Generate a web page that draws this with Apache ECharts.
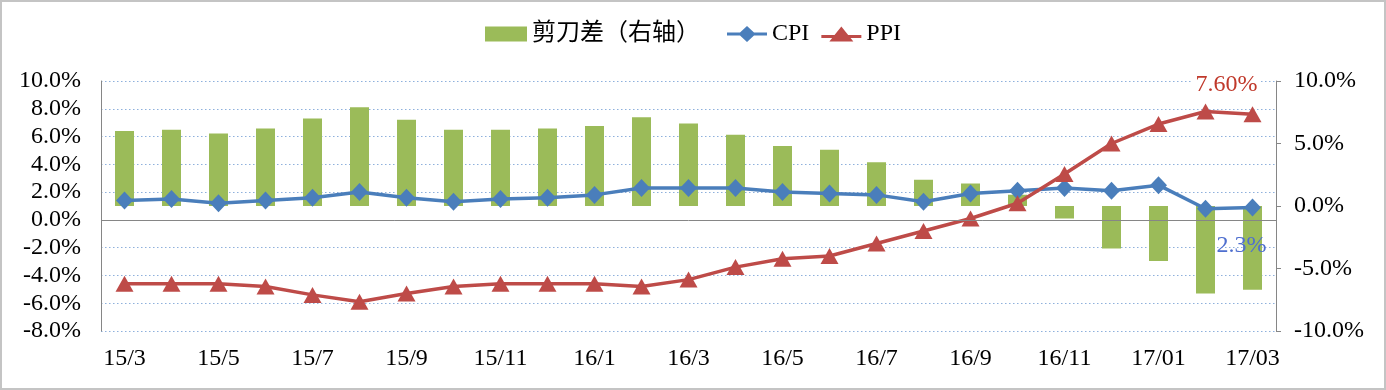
<!DOCTYPE html>
<html>
<head>
<meta charset="utf-8">
<script src="https://cdn.jsdelivr.net/npm/echarts@6/dist/echarts.min.js"></script>
<style>
html,body{margin:0;padding:0;background:#fff;}
#c{width:1386px;height:390px;box-sizing:border-box;border:2px solid #c4c4c4;}
</style>
</head>
<body>
<div id="c"></div>
<script>
const categories = ['15/3','15/4','15/5','15/6','15/7','15/8','15/9','15/10','15/11','15/12','16/1','16/2','16/3','16/4','16/5','16/6','16/7','16/8','16/9','16/10','16/11','16/12','17/01','17/02','17/03'];
const cpi = [1.4,1.5,1.2,1.4,1.6,2.0,1.6,1.3,1.5,1.6,1.8,2.3,2.3,2.3,2.0,1.9,1.8,1.3,1.9,2.1,2.3,2.1,2.5,0.8,0.9];
const ppi = [-4.6,-4.6,-4.6,-4.8,-5.4,-5.9,-5.3,-4.8,-4.6,-4.6,-4.6,-4.8,-4.3,-3.4,-2.8,-2.6,-1.7,-0.8,0.1,1.2,3.3,5.5,6.9,7.8,7.6];
const gap = [6.0,6.1,5.8,6.2,7.0,7.9,6.9,6.1,6.1,6.2,6.4,7.1,6.6,5.7,4.8,4.5,3.5,2.1,1.8,0.9,-1.0,-3.4,-4.4,-7.0,-6.7];
const leftTicks = {min:-8, max:10, interval:2};
const rightTicks = {min:-10, max:10, interval:5};
const ppiLabel = '7.60%';
const cpiLabel = '2.3%';

const serif = '"Liberation Serif", "Times New Roman", serif';
const legendFont = {fontSize:24, color:'#000', fontFamily:'"Liberation Serif", "Noto Sans CJK SC", serif'};
const chart = echarts.init(document.getElementById('c'), null, {renderer:'canvas'});
const last = categories.length - 1;

const cpiIcon = 'path://M0,6.5L13,6.5L20,0L27,6.5L40,6.5L40,9.5L27,9.5L20,16L13,9.5L0,9.5Z';
const ppiIcon = 'path://M0,9.5L13.2,9.5L20,1L26.8,9.5L40,9.5L40,12.5L29.2,12.5L32,16L8,16L10.8,12.5L0,12.5Z';

chart.setOption({
  animation:false,
  backgroundColor:'#fff',
  textStyle:{fontFamily:serif},
  legend:[
    {top:15, left:478, itemWidth:42, itemHeight:15, textStyle:legendFont,
     data:[{name:'剪刀差（右轴）', icon:'rect'}]},
    {top:15, left:720, itemGap:12, itemWidth:40, itemHeight:16, textStyle:legendFont,
     data:[{name:'CPI', icon:cpiIcon}, {name:'PPI', icon:ppiIcon}]}
  ],
  grid:{left:99, right:108, top:79, bottom:57, containLabel:false},
  xAxis:{
    type:'category', data:categories, boundaryGap:true,
    axisLine:{show:false, onZero:false}, axisTick:{show:false},
    axisLabel:{interval:1, fontSize:24, color:'#000', margin:16, fontFamily:serif}
  },
  yAxis:[
    {type:'value', min:leftTicks.min, max:leftTicks.max, interval:leftTicks.interval,
     axisLine:{show:true, lineStyle:{color:'#868686'}}, axisTick:{show:false},
     axisLabel:{fontSize:24, color:'#000', margin:20, fontFamily:serif, formatter:v=>v.toFixed(1)+'%'},
     splitLine:{show:true, lineStyle:{color:'#8eb0dc', type:[1.5,2.5], width:1.2}}},
    {type:'value', min:rightTicks.min, max:rightTicks.max, interval:rightTicks.interval, position:'right',
     axisLine:{show:true, lineStyle:{color:'#868686'}}, axisTick:{show:true, length:5, lineStyle:{color:'#868686'}},
     axisLabel:{fontSize:24, color:'#000', margin:18, fontFamily:serif, formatter:v=>v.toFixed(1)+'%'},
     splitLine:{show:false}}
  ],
  series:[
    {name:'剪刀差（右轴）', type:'bar', yAxisIndex:1, data:gap, barWidth:19,
     itemStyle:{color:'#9bbb59'}, z:1},
    {name:'CPI', type:'line', yAxisIndex:0, z:3,
     data:cpi.map((v,i)=> i===last ? {value:v, label:{show:true, position:'bottom', offset:[-11,12], formatter:cpiLabel, color:'#4f6fcf', fontSize:24, fontFamily:serif}} : v),
     symbol:'diamond', symbolSize:[17,18], lineStyle:{color:'#4a7ebb', width:3.5}, itemStyle:{color:'#4a7ebb'},
     markLine:{silent:true, symbol:'none', label:{show:false}, lineStyle:{color:'#868686', type:'solid', width:1}, data:[{yAxis:0}]}},
    {name:'PPI', type:'line', yAxisIndex:0, z:4,
     data:ppi.map((v,i)=> i===last ? {value:v, label:{show:true, position:'top', offset:[-26,-5], formatter:ppiLabel, color:'#c0392b', fontSize:24, fontFamily:serif, backgroundColor:'#fff', padding:[0,3]}} : v),
     symbol:'triangle', symbolSize:[18,16], lineStyle:{color:'#be4b48', width:3.5}, itemStyle:{color:'#be4b48'}}
  ]
});
</script>
</body>
</html>
